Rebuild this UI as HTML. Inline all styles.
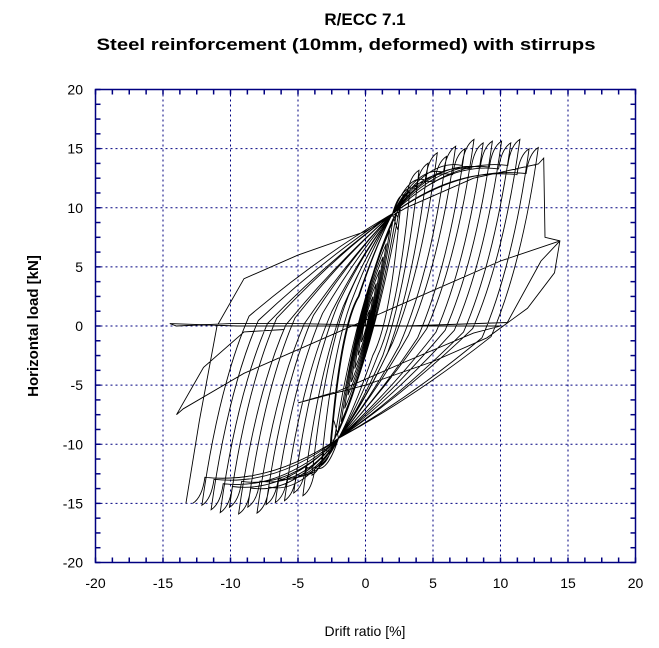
<!DOCTYPE html>
<html><head><meta charset="utf-8"><style>
html,body{margin:0;padding:0;background:#fff;}
svg{display:block;font-family:"Liberation Sans",Arial,sans-serif;}
</style></head><body>
<svg id="s" width="659" height="648" viewBox="0 0 659 648" xmlns="http://www.w3.org/2000/svg">
<text x="365" y="25" text-anchor="middle" font-size="17" font-weight="bold">R/ECC 7.1</text>
<text x="346" y="50" text-anchor="middle" font-size="17" font-weight="bold" textLength="499" lengthAdjust="spacingAndGlyphs">Steel reinforcement (10mm, deformed) with stirrups</text>
<g id="grid" stroke="#000080" stroke-width="1" stroke-dasharray="2,3" fill="none"></g>
<g id="curve"></g>
<rect x="95.5" y="89.5" width="540" height="473" fill="none" stroke="#000080" stroke-width="1.5"/>
<g id="ticks" stroke="#000080" stroke-width="1.5"></g>
<g id="lbl" font-size="14" fill="#000"></g>
<text x="365" y="636" text-anchor="middle" font-size="14">Drift ratio [%]</text>
<text transform="translate(38,326) rotate(-90)" text-anchor="middle" font-size="15" font-weight="bold">Horizontal load [kN]</text>
</svg>
<script>
var NS="http://www.w3.org/2000/svg";
var X0=95.5,X1=635.5,Y0=89.5,Y1=562.5;
function px(x){return X0+(x+20)/40*(X1-X0);}
function py(y){return Y1-(y+20)/40*(Y1-Y0);}
function el(t,a,p){var e=document.createElementNS(NS,t);for(var k in a)e.setAttribute(k,a[k]);p.appendChild(e);return e;}
var g=document.getElementById('grid'),tk=document.getElementById('ticks'),lb=document.getElementById('lbl');
for(var v=-20;v<=20;v+=5){
 if(v>-20&&v<20){el('line',{x1:px(v),x2:px(v),y1:Y0,y2:Y1},g);el('line',{x1:X0,x2:X1,y1:py(v),y2:py(v)},g);}
 var t=el('text',{x:px(v),y:588,'text-anchor':'middle'},lb);t.textContent=v;
 var t2=el('text',{x:83,y:py(v)+5,'text-anchor':'end'},lb);t2.textContent=v;
}
for(var v=-20;v<=20;v+=1.25){
 el('line',{x1:px(v),x2:px(v),y1:Y1,y2:Y1-5},tk);el('line',{x1:px(v),x2:px(v),y1:Y0,y2:Y0+5},tk);
 el('line',{x1:X0,x2:X0+5,y1:py(v),y2:py(v)},tk);el('line',{x1:X1,x2:X1-5,y1:py(v),y2:py(v)},tk);
}
function P(d){if(d<2)return 9*d/2;if(d<4.5)return 9+5*(d-2)/2.5;if(d<8)return 14+1.5*(d-4.5)/3.5;if(d<11.5)return 15.6;return 15.6-0.6*(d-11.5);}
function f(n){return n.toFixed(1);}
function pt(x,y){return f(px(x))+','+f(py(y));}
var path='';
path+='M'+pt(0,0);
for(var d=0.3;d<2.6;d+=0.25){
 var p=P(d);
 path+=' Q'+pt(-d*0.2,p*0.3)+' '+pt(d,p)+' Q'+pt(d*0.2,-p*0.3)+' '+pt(-d,-p);
}
var prev=[-2.5,-P(2.5)];
for(var d=2.6;d<=13.3;d+=0.68){
 var Pp=P(d)+0.3*Math.sin(d*5), Pn=P(d)+0.3*Math.cos(d*4);
 var sx=prev[0],sy=prev[1];
 var run=Math.min(3.5,(Math.abs(sx)+2)*0.45);
 var Ax=sx+run, Ay=Math.min(2.5,sy+16);
 path+=' Q'+pt(sx+run*0.35,sy+10)+' '+pt(Ax,Ay);
 path+=' Q'+pt((Ax+2)/2,(Ay+9.5)/2+0.8)+' '+pt(2,9.5);
 var Bx=Math.max(d-0.9,2.4), By=Math.min(Pp-2.2,9.5+0.55*(Bx-2)+1.5);
 path+=' Q'+pt((2+Bx)/2,By+0.6)+' '+pt(Bx,By);
 path+=' Q'+pt(Bx+0.2,Pp-0.5)+' '+pt(d,Pp);
 sx=d;sy=Pp;
 run=Math.min(3.5,(d+2)*0.45);
 Ax=sx-run;Ay=Math.max(-2.5,sy-16);
 path+=' Q'+pt(sx-run*0.35,sy-10)+' '+pt(Ax,Ay);
 path+=' Q'+pt((Ax-2)/2,(Ay-9.5)/2-0.8)+' '+pt(-2,-9.5);
 Bx=Math.min(-d+0.9,-2.4); By=-Math.min(Pn-2.2,9.5+0.55*(-Bx-2)+1.5);
 path+=' Q'+pt((-2+Bx)/2,By-0.6)+' '+pt(Bx,By);
 path+=' Q'+pt(Bx-0.2,-Pn+0.5)+' '+pt(-d,-Pn);
 prev=[-d,-Pn];
}
var fin=[[-13.3,-15],[-12.3,-8],[-11,0],[-9,4],[-5,6],[0,8],[3,10],[8,12.5],[12.8,13.7],[13.2,14.2],[13.3,7.5],[14.4,7.2],[14,4.5],[12,1.5],[9,-1],[5,-3],[0,-5],[-5,-6.5],[-2,-5.5],[3,-3],[8,-0.6],[10,0],[0,0],[-9.5,0],[-14.5,0.2],[-14,0],[-10,0.2],[-5,0.2],[3,0],[10.5,0.3],[13,5.5],[14.4,7.2],[10,5.5],[3,2],[-3,-1],[-9,-4],[-13.5,-7],[-14,-7.5],[-12,-3.5],[-9,-0.5],[-6,-0.3]];
path+=' M'+fin.map(function(p){return pt(p[0],p[1]);}).join(' L');
el('path',{d:path,fill:'none',stroke:'#000','stroke-width':'0.9'},document.getElementById('curve'));
</script>
</body></html>
